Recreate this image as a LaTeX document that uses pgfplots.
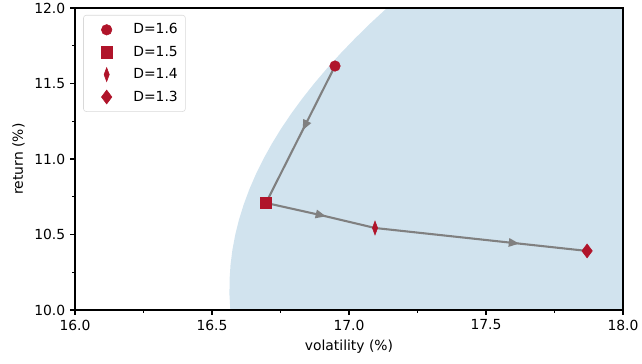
\documentclass[border=0pt]{standalone}
\usepackage{fontspec}
\setmainfont{DejaVu Sans}
\usepackage{pgfplots}
\pgfplotsset{compat=1.18}
\usetikzlibrary{decorations.markings,arrows.meta}
\definecolor{fillblue}{RGB}{209,227,238}
\definecolor{mred}{RGB}{176,20,42}
\definecolor{lgray}{RGB}{128,128,128}
\tikzset{arr/.style={decoration={markings,mark=at position #1 with {\arrow{Triangle[length=7.5pt,width=6pt]}}},postaction={decorate}}}
\pgfplotsset{lim/.style={legend image code/.code={\path[draw=none,fill=none] (0pt,0pt) -- (30.4pt,0pt); \draw[##1, /tikz/only marks] plot coordinates {(14.7pt,0pt)};}}}
\begin{document}
\begin{tikzpicture}
\begin{axis}[name=ax,
  scale only axis, width=394.6pt, height=217.4pt,
  xmin=16, xmax=18, ymin=10, ymax=12,
  xtick={16,16.5,17,17.5,18}, ytick={10,10.5,11,11.5,12},
  minor x tick num=1, minor y tick num=1,
  tick align=outside, major tick length=3.5pt, minor tick length=2pt,
  xtick pos=bottom, ytick pos=left,
  axis line style={line width=0.8pt}, every tick/.style={line width=0.8pt,black},
  axis on top,
  ticklabel style={font=\fontsize{10}{12}\selectfont},
  label style={font=\fontsize{10}{12}\selectfont},
  /pgf/number format/assume math mode=true,
  /pgf/number format/.cd, fixed, fixed zerofill, precision=1, /pgfplots/.cd,
  xlabel={volatility (\%)}, ylabel={return (\%)},
  legend style={at={(0.015,0.977)}, anchor=north west, draw=black!15, rounded corners=2pt, font=\fontsize{10}{12}\selectfont, row sep=3.3pt, inner xsep=2pt, inner ysep=4pt,
    nodes={inner xsep=3.5pt}},
  legend cell align=left,
]
\addplot[fill=fillblue, draw=none, forget plot] coordinates {
 (16.5735,9.9) (16.5670,10.0) (16.5638,10.1) (16.5641,10.2) (16.5677,10.3) (16.5747,10.4)
 (16.5851,10.5) (16.5989,10.6) (16.6160,10.7) (16.6365,10.8) (16.6604,10.9) (16.6876,11.0)
 (16.7181,11.1) (16.7519,11.2) (16.7890,11.3) (16.8293,11.4) (16.8729,11.5) (16.9196,11.6)
 (16.9696,11.7) (17.0227,11.8) (17.0789,11.9) (17.1383,12.0) (17.2007,12.1)
 (18.2,12.1) (18.2,9.9)
} -- cycle;
\addplot[lgray, line width=1.5pt, arr=0.47, forget plot] coordinates {(16.949,11.616) (16.697,10.709)};
\addplot[lgray, line width=1.5pt, arr=0.55, forget plot] coordinates {(16.697,10.709) (16.90,10.627) (17.095,10.543)};
\addplot[lgray, line width=1.5pt, arr=0.68, forget plot] coordinates {(17.095,10.543) (17.869,10.391)};
\addplot[only marks, mark=*, mark size=3.8pt, color=mred, forget plot] coordinates {(16.949,11.616)};
\addplot[only marks, mark=square*, mark size=4pt, color=mred, forget plot] coordinates {(16.697,10.709)};
\addplot[only marks, mark=diamond*, mark size=5pt, mark options={xscale=0.5}, color=mred, forget plot] coordinates {(17.095,10.543)};
\addplot[only marks, mark=diamond*, mark size=5pt, color=mred, forget plot] coordinates {(17.869,10.391)};
\addlegendimage{lim, mark=*, mark size=3.8pt, color=mred}
\addlegendentry{D=1.6}
\addlegendimage{lim, mark=square*, mark size=4pt, color=mred}
\addlegendentry{D=1.5}
\addlegendimage{lim, mark=diamond*, mark size=5pt, mark options={xscale=0.5}, color=mred}
\addlegendentry{D=1.4}
\addlegendimage{lim, mark=diamond*, mark size=5pt, color=mred}
\addlegendentry{D=1.3}
\end{axis}
\pgfresetboundingbox
\path ([xshift=-54pt,yshift=-38.9pt]ax.south west) rectangle ([xshift=13.7pt,yshift=5.8pt]ax.north east);
\end{tikzpicture}
\end{document}
